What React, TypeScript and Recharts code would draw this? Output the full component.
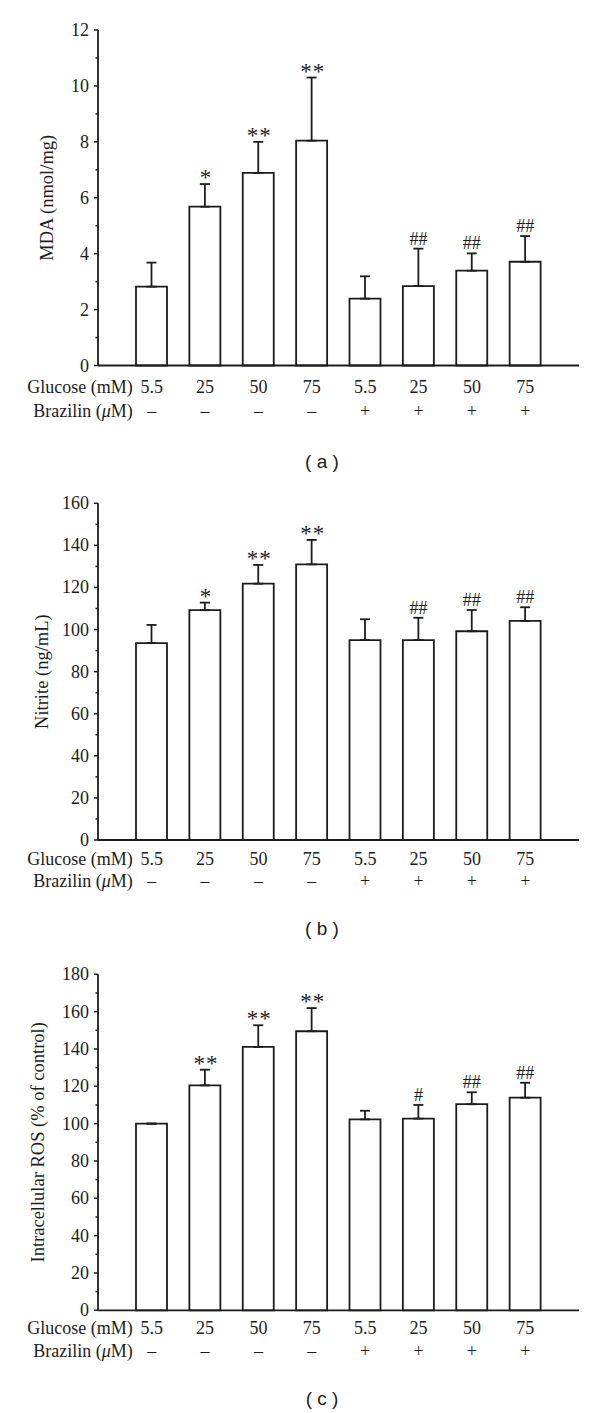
import { Bar, BarChart, ErrorBar, LabelList, XAxis, YAxis } from "recharts";

// x categories (shared by all three panels)
const glucose = ["5.5", "25", "50", "75", "5.5", "25", "50", "75"];
const brazilin = ["\u2013", "\u2013", "\u2013", "\u2013", "+", "+", "+", "+"];

// (a) MDA
const mdaMean = [2.82, 5.68, 6.89, 8.04, 2.39, 2.84, 3.39, 3.71];
const mdaErr = [0.86, 0.81, 1.11, 2.26, 0.8, 1.34, 0.62, 0.92];
const mdaSig = ["", "*", "**", "**", "", "##", "##", "##"];
const mdaTicks = [0, 1, 2, 3, 4, 5, 6, 7, 8, 9, 10, 11, 12];
const mdaMajor = [0, 2, 4, 6, 8, 10, 12];

// (b) Nitrite
const nitMean = [93.6, 109.2, 121.8, 131.0, 95.0, 95.0, 99.2, 104.1];
const nitErr = [8.6, 3.6, 8.9, 11.6, 9.9, 10.6, 10.1, 6.5];
const nitSig = ["", "*", "**", "**", "", "##", "##", "##"];
const nitTicks = [0, 10, 20, 30, 40, 50, 60, 70, 80, 90, 100, 110, 120, 130, 140, 150, 160];
const nitMajor = [0, 20, 40, 60, 80, 100, 120, 140, 160];

// (c) ROS
const rosMean = [100, 120.5, 141.1, 149.5, 102.3, 102.7, 110.4, 113.9];
const rosErr = [0, 8.4, 11.6, 12.4, 4.6, 7.3, 6.4, 8.0];
const rosSig = ["", "**", "**", "**", "", "#", "##", "##"];
const rosTicks = [0, 10, 20, 30, 40, 50, 60, 70, 80, 90, 100, 110, 120, 130, 140, 150, 160, 170, 180];
const rosMajor = [0, 20, 40, 60, 80, 100, 120, 140, 160, 180];

const INK = "#1c1c1c";
const SERIF = "'Liberation Serif', 'Times New Roman', serif";
const SANS = "'Liberation Sans', Arial, sans-serif";

const makeYTick = (major: number[]) => (props: any) => {
  const { x, y, payload } = props;
  const isMajor = major.includes(payload.value);
  const axisX = x + 9;
  return (
    <g>
      <line x1={axisX - (isMajor ? 4 : 2.5)} x2={axisX} y1={y} y2={y} stroke={INK} strokeWidth={1.5} />
      {isMajor && (
        <text x={x} y={y} textAnchor="end" dominantBaseline="central" fontFamily={SERIF} fontSize={18} fill={INK}>
          {payload.value}
        </text>
      )}
    </g>
  );
};

const makeXTick = (row1: number, row2: number) => (props: any) => {
  const { x, y, index } = props;
  return (
    <g fontFamily={SERIF} fontSize={18} fill={INK}>
      {index === 0 && (
        <>
          <text x={x - 19} y={y + row1} textAnchor="end" dominantBaseline="central">
            Glucose (mM)
          </text>
          <text x={x - 19} y={y + row2} textAnchor="end" dominantBaseline="central">
            Brazilin (<tspan fontStyle="italic">μ</tspan>M)
          </text>
        </>
      )}
      <text x={x} y={y + row1} textAnchor="middle" dominantBaseline="central">
        {glucose[index]}
      </text>
      <text x={x} y={y + row2} textAnchor="middle" dominantBaseline="central">
        {brazilin[index]}
      </text>
    </g>
  );
};

const makeSig = (mean: number[], err: number[]) => (props: any) => {
  const { x, y, width, height, value, index } = props;
  if (!value) return null;
  const perUnit = height / mean[index];
  const top = y - err[index] * perUnit;
  const cx = x + width / 2;
  if (String(value).includes("*")) {
    return (
      <text x={cx + 1} y={top + 1} textAnchor="middle" fontFamily={SERIF} fontSize={23} letterSpacing={1} fill={INK}>
        {value}
      </text>
    );
  }
  return (
    <text x={cx} y={top - 4} textAnchor="middle" fontFamily={SERIF} fontSize={18} fill={INK}>
      {value}
    </text>
  );
};

function YTitle(props: any) {
  const { viewBox, text, cx } = props;
  const cy = viewBox.y + viewBox.height / 2;
  return (
    <text
      x={cx}
      y={cy}
      transform={`rotate(-90 ${cx} ${cy})`}
      textAnchor="middle"
      dominantBaseline="central"
      fontFamily={SERIF}
      fontSize={18.5}
      fill={INK}
    >
      {text}
    </text>
  );
}

function Caption(props: any) {
  const { viewBox, text, dy } = props;
  return (
    <text
      x={viewBox.x + 224}
      y={viewBox.y + dy}
      textAnchor="middle"
      dominantBaseline="central"
      fontFamily={SANS}
      fontSize={19}
      fill={INK}
    >
      {text}
    </text>
  );
}

interface PanelProps {
  top: number;
  height: number;
  marginTop: number;
  plotBottom: number;
  mean: number[];
  err: number[];
  sig: string[];
  ticks: number[];
  major: number[];
  max: number;
  title: string;
  titleX: number;
  row1: number;
  row2: number;
  caption: string;
  captionDy: number;
}

function Panel(p: PanelProps) {
  const data = glucose.map((g, i) => ({
    key: String(i),
    glucose: g,
    mean: p.mean[i],
    err: [0, p.err[i]],
    sig: p.sig[i],
  }));
  return (
    <div style={{ position: "absolute", left: 0, top: p.top }}>
      <BarChart
        width={600}
        height={p.height}
        data={data}
        margin={{ top: p.marginTop, right: 21, left: 38, bottom: 0 }}
      >
        <XAxis
          dataKey="key"
          height={p.height - p.plotBottom}
          padding={{ left: 27, right: 27 }}
          axisLine={{ stroke: INK, strokeWidth: 1.8 }}
          tickLine={false}
          tickSize={0}
          tickMargin={0}
          interval={0}
          tick={makeXTick(p.row1, p.row2)}
          label={<Caption text={p.caption} dy={p.captionDy} />}
        />
        <YAxis
          width={60}
          domain={[0, p.max]}
          ticks={p.ticks}
          interval={0}
          axisLine={{ stroke: INK, strokeWidth: 1.8 }}
          tickLine={false}
          tickSize={4}
          tickMargin={5}
          tick={makeYTick(p.major)}
          label={<YTitle text={p.title} cx={p.titleX} />}
        />
        <Bar
          dataKey="mean"
          fill="#ffffff"
          stroke={INK}
          strokeWidth={1.8}
          barSize={31}
          isAnimationActive={false}
        >
          <ErrorBar dataKey="err" direction="y" width={5} stroke={INK} strokeWidth={1.8} />
          <LabelList dataKey="sig" content={makeSig(p.mean, p.err)} />
        </Bar>
      </BarChart>
    </div>
  );
}

export default function App() {
  return (
    <div style={{ position: "absolute", left: 0, top: 0, width: 600, height: 1413, background: "#fff" }}>
      <Panel
        top={0}
        height={482}
        marginTop={30}
        plotBottom={365.5}
        mean={mdaMean}
        err={mdaErr}
        sig={mdaSig}
        ticks={mdaTicks}
        major={mdaMajor}
        max={12}
        title="MDA (nmol/mg)"
        titleX={47}
        row1={21}
        row2={45.5}
        caption="( a )"
        captionDy={96}
      />
      <Panel
        top={470}
        height={472}
        marginTop={33.3}
        plotBottom={370}
        mean={nitMean}
        err={nitErr}
        sig={nitSig}
        ticks={nitTicks}
        major={nitMajor}
        max={160}
        title="Nitrite (ng/mL)"
        titleX={42}
        row1={18.5}
        row2={41}
        caption="( b )"
        captionDy={88}
      />
      <Panel
        top={940}
        height={473}
        marginTop={34.3}
        plotBottom={370.3}
        mean={rosMean}
        err={rosErr}
        sig={rosSig}
        ticks={rosTicks}
        major={rosMajor}
        max={180}
        title="Intracellular ROS (% of control)"
        titleX={38}
        row1={18}
        row2={40.5}
        caption="( c )"
        captionDy={88}
      />
    </div>
  );
}
